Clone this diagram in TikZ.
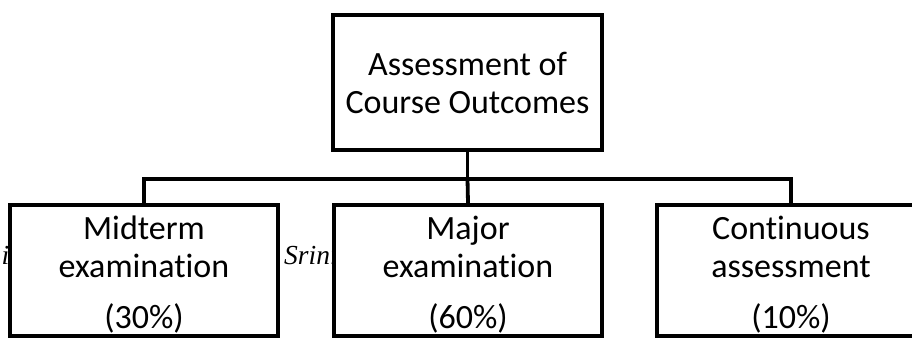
\documentclass[tikz,border=0pt]{standalone}
\usepackage{fontspec}
\setmainfont{Carlito}[RawFeature={-liga}]
\newfontfamily\cutfont{Liberation Serif}
\begin{document}
\begin{tikzpicture}[x=1pt,y=1pt,
  boxstyle/.style={draw=black, line width=4.2pt, fill=white, align=center,
    inner sep=0pt, font=\fontsize{34}{38}\selectfont, line join=miter},
  link/.style={draw=black, line width=3.8pt, line join=miter},
  cuttext/.style={font=\cutfont\itshape\fontsize{27.5}{30}\selectfont, inner sep=0pt}]
\useasboundingbox (0,0) rectangle (912,340);
\clip (0,0) rectangle (912,340);
% partially hidden text fragments from the page
\node[cuttext, anchor=base east] (frag1) at (9.5,75) {i};
\node[cuttext, anchor=base west] (frag2) at (284,75) {Srini};
% boxes
\node[boxstyle, minimum width=269pt, minimum height=135pt] (top) at (467.5,257.5)
  {Assessment of\\Course Outcomes};
\node[boxstyle, minimum width=268pt, minimum height=131pt] (mid) at (144,69.5)
  {\rule{0pt}{32pt}Midterm\\examination\\[13pt](30\%)};
\node[boxstyle, minimum width=268pt, minimum height=131pt] (maj) at (468,69.5)
  {\rule{0pt}{32pt}Major\\examination\\[13pt](60\%)};
\node[boxstyle, minimum width=268pt, minimum height=131pt] (con) at (791,69.5)
  {\rule{0pt}{32pt}Continuous\\assessment\\[13pt](10\%)};
% connectors
\draw[link] (top.south) -- ++(0,-27) coordinate (junc);
\draw[link] (mid.north) |- (junc) -| (con.north);
\draw[link] (junc) -- (maj.north);
\end{tikzpicture}
\end{document}
